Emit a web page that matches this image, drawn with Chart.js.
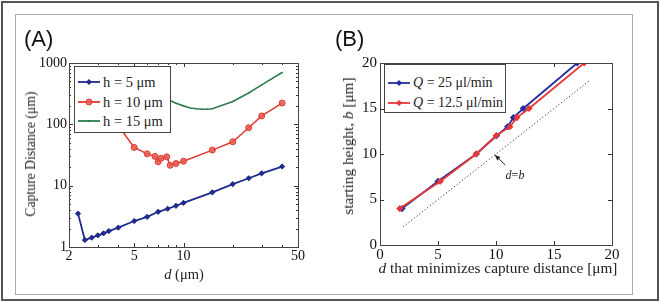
<!DOCTYPE html>
<html><head><meta charset="utf-8">
<script src="https://cdn.jsdelivr.net/npm/chart.js@4"></script>
<style>
html,body{margin:0;padding:0;background:#fff;}
#wrap{position:relative;width:660px;height:302px;overflow:hidden;font-family:"Liberation Serif","DejaVu Serif",serif;color:#222;}
.abs{position:absolute;}
#outer{left:1px;top:1px;width:654px;height:296px;border:2px solid #555;}
#inner{left:15px;top:14px;width:616px;height:279px;border:1px solid #aaa;}
.ptitle{font-family:"Liberation Sans",Arial,sans-serif;font-size:22px;color:#111;}
.c{transform:translate(-50%,-50%);white-space:nowrap;}
.r{transform:translate(-50%,-50%) rotate(-90deg);white-space:nowrap;}
.leg{background:#fff;border:1px solid #444;}
.row{position:absolute;left:0;height:20px;white-space:nowrap;}
.row svg{position:absolute;top:0;}
.row span{position:absolute;top:50%;transform:translateY(-50%);}
</style></head>
<body>
<div id="wrap">
  <div id="outer" class="abs"></div>
  <div id="inner" class="abs"></div>
  <canvas id="cA" class="abs" width="330" height="302" style="left:0;top:0;"></canvas>
  <canvas id="cB" class="abs" width="330" height="302" style="left:330px;top:0;"></canvas>
  <div class="abs ptitle" style="left:24px;top:26px;">(A)</div>
  <div class="abs ptitle" style="left:335px;top:26px;">(B)</div>
  <div class="abs r" style="left:31px;top:154px;font-size:13.7px;">Capture Distance (μm)</div>
  <div class="abs c" style="left:184px;top:274px;font-size:14.5px;"><i>d</i> (μm)</div>
  <div class="abs r" style="left:348px;top:146px;font-size:15.3px;">starting height, <i>b</i> [μm]</div>
  <div class="abs c" style="left:498px;top:268px;font-size:15.3px;"><i>d</i> that minimizes capture distance [μm]</div>
  <div class="abs c" style="left:515px;top:175px;font-size:12px;"><i>d</i>=<i>b</i></div>
  <div id="legA" class="abs leg" style="left:74px;top:66px;width:95px;height:65px;"></div>
  <div id="legB" class="abs leg" style="left:384px;top:64px;width:120px;height:47px;"></div>
</div>
<script>
// ---------- Panel A data ----------
const h5_d   = [2.27, 2.5, 2.75, 3, 3.25, 3.5, 4, 5, 6, 7, 8, 9, 10, 15, 20, 25, 30, 40];
const h5_cd  = [3.5, 1.3, 1.42, 1.55, 1.67, 1.82, 2.07, 2.65, 3.1, 3.75, 4.2, 4.7, 5.25, 7.8, 10.6, 13.2, 15.9, 20.5];
const h10_d  = [4, 5, 6, 6.7, 7, 7.3, 7.9, 8.3, 9, 10, 15, 20, 25, 30, 40];
const h10_cd = [95, 42, 33, 30, 24.5, 28, 29.5, 21.5, 23, 25, 38, 52, 88, 137, 222];
const h15_d  = [6, 7, 8, 9, 10, 11, 12, 13, 14, 15, 20, 25, 30, 40];
const h15_cd = [380, 300, 255, 220, 200, 185, 179, 176, 176, 180, 235, 325, 440, 700];
const aXTicks = [2, 5, 10, 50];
const aXMinor = [3, 4, 6, 7, 8, 9, 20, 30, 40];
const aYTicks = [1, 10, 100, 1000];
const aYMinor = [2,3,4,5,6,7,8,9,20,30,40,50,60,70,80,90,200,300,400,500,600,700,800,900];
const aLegend = ['h = 5 μm', 'h = 10 μm', 'h = 15 μm'];

// ---------- Panel B data ----------
const q25_d  = [1.9, 5.0, 8.3, 10.05, 11.0, 11.5, 12.35, 17.0];
const q25_b  = [4, 7, 10, 12, 13, 14, 15, 20];
const q12_d  = [1.7, 5.2, 8.3, 10.0, 11.2, 11.8, 12.85, 17.6];
const q12_b  = [4, 7, 10, 12, 13, 14, 15, 20];
const dbLine = [2, 18];
const bTicks = [0, 5, 10, 15, 20];
const arrowTip  = [9.9, 9.9];
const arrowTail = [10.8, 8.8];
const bLegend = ['25 μl/min', '12.5 μl/min'];

const C_BLUE = 'rgb(32,42,140)', C_RED = 'rgb(222,58,50)', C_GREEN = 'rgb(45,125,80)';
const C_BLUE2 = 'rgb(35,45,160)', C_RED2 = 'rgb(232,55,55)';
const pts = (xs, ys) => xs.map((x, i) => ({x, y: ys[i]}));
const serif = '"Liberation Serif", "DejaVu Serif", serif';

function boxPlugin(cfg) {
  return {
    id: 'boxTicks',
    afterDraw(chart) {
      const {ctx, chartArea: a, scales: {x, y}} = chart;
      ctx.save();
      ctx.strokeStyle = '#333';
      ctx.lineWidth = 1;
      ctx.beginPath();
      const tick = (v, len, horiz) => {
        if (horiz) {
          const p = Math.round(x.getPixelForValue(v)) + 0.5;
          ctx.moveTo(p, a.bottom); ctx.lineTo(p, a.bottom - len);
          ctx.moveTo(p, a.top); ctx.lineTo(p, a.top + len);
        } else {
          const p = Math.round(y.getPixelForValue(v)) + 0.5;
          ctx.moveTo(a.left, p); ctx.lineTo(a.left + len, p);
          ctx.moveTo(a.right, p); ctx.lineTo(a.right - len, p);
        }
      };
      cfg.xMajor.forEach(v => tick(v, 4, true));
      (cfg.xMinor || []).forEach(v => tick(v, 2, true));
      cfg.yMajor.forEach(v => tick(v, 4, false));
      (cfg.yMinor || []).forEach(v => tick(v, 2, false));
      ctx.stroke();
      ctx.strokeStyle = '#444';
      ctx.strokeRect(Math.round(a.left) + 0.5, Math.round(a.top) + 0.5,
                     Math.round(a.right - a.left), Math.round(a.bottom - a.top));
      if (cfg.arrow) {
        const tx = x.getPixelForValue(cfg.arrow.tip[0]), ty = y.getPixelForValue(cfg.arrow.tip[1]);
        const sx = x.getPixelForValue(cfg.arrow.tail[0]), sy = y.getPixelForValue(cfg.arrow.tail[1]);
        const ang = Math.atan2(ty - sy, tx - sx);
        ctx.strokeStyle = '#222';
        ctx.fillStyle = '#222';
        ctx.beginPath(); ctx.moveTo(sx, sy); ctx.lineTo(tx, ty); ctx.stroke();
        ctx.beginPath();
        ctx.moveTo(tx, ty);
        ctx.lineTo(tx - 6 * Math.cos(ang - 0.4), ty - 6 * Math.sin(ang - 0.4));
        ctx.lineTo(tx - 6 * Math.cos(ang + 0.4), ty - 6 * Math.sin(ang + 0.4));
        ctx.closePath(); ctx.fill();
      }
      ctx.restore();
    }
  };
}

function axis(type, min, max, ticks, fitKey, fitVal, pad, fs) {
  return {
    type, min, max,
    afterBuildTicks: s => { s.ticks = ticks.map(v => ({value: v})); },
    afterFit: s => { s[fitKey] = fitVal; },
    ticks: {font: {family: serif, size: fs}, color: '#111', padding: pad, autoSkip: false, maxRotation: 0,
            callback: v => String(v)},
    grid: {display: false, drawTicks: false, tickLength: 0},
    border: {display: false}
  };
}

new Chart(document.getElementById('cA'), {
  type: 'line',
  data: {datasets: [
    {data: pts(h5_d, h5_cd), borderColor: C_BLUE, backgroundColor: C_BLUE, borderWidth: 1.8,
     pointStyle: 'rectRot', pointRadius: 2.6, pointBorderWidth: 1},
    {data: pts(h10_d, h10_cd), borderColor: C_RED, backgroundColor: 'rgba(232,90,80,0.85)', borderWidth: 1.5,
     pointStyle: 'circle', pointRadius: 3, pointBorderWidth: 1},
    {data: pts(h15_d, h15_cd), borderColor: C_GREEN, backgroundColor: C_GREEN, borderWidth: 1.6,
     pointRadius: 0.8, pointBorderWidth: 0}
  ]},
  options: {
    responsive: false, animation: false, devicePixelRatio: 1,
    layout: {padding: {left: 29, top: 63, right: 32, bottom: 25}},
    plugins: {legend: {display: false}, tooltip: {enabled: false}},
    scales: {
      x: axis('logarithmic', 2, 50, aXTicks, 'height', 30, 1, 14),
      y: axis('logarithmic', 1, 1000, aYTicks, 'width', 40, 2, 14)
    }
  },
  plugins: [boxPlugin({xMajor: aXTicks, xMinor: aXMinor, yMajor: aYTicks, yMinor: aYMinor})]
});

new Chart(document.getElementById('cB'), {
  type: 'line',
  data: {datasets: [
    {data: pts(q25_d, q25_b), borderColor: C_BLUE2, backgroundColor: C_BLUE2, borderWidth: 1.8,
     pointStyle: 'rectRot', pointRadius: 2.3, order: 1},
    {data: pts(q12_d, q12_b), borderColor: C_RED2, backgroundColor: C_RED2, borderWidth: 1.8,
     pointStyle: 'rectRot', pointRadius: 2.3, order: 0},
    {data: pts(dbLine, dbLine), borderColor: '#333', borderWidth: 1, borderDash: [1.2, 2.2],
     pointRadius: 0, order: 2}
  ]},
  options: {
    responsive: false, animation: false, devicePixelRatio: 1,
    layout: {padding: {left: 20, top: 63, right: 48, bottom: 27}},
    plugins: {legend: {display: false}, tooltip: {enabled: false}},
    scales: {
      x: axis('linear', 0, 20, bTicks, 'height', 30, 1, 15),
      y: axis('linear', 0, 20, bTicks, 'width', 30, 3, 15)
    }
  },
  plugins: [boxPlugin({xMajor: bTicks, yMajor: bTicks, arrow: {tip: arrowTip, tail: arrowTail}})]
});

// ---------- HTML legends ----------
function legendRow(el, top, sampleW, textLeft, color, marker, html, fs) {
  const row = document.createElement('div');
  row.className = 'row';
  row.style.top = top + 'px';
  row.style.width = '100%';
  const mid = sampleW / 2 + 3;
  let m = '';
  if (marker === 'diamond') m = `<polygon points="${mid},7 ${mid+3},10 ${mid},13 ${mid-3},10" fill="${color}"/>`;
  if (marker === 'circle') m = `<circle cx="${mid}" cy="10" r="3" fill="rgba(232,90,80,0.85)" stroke="${color}"/>`;
  if (marker === 'dot') m = `<circle cx="${mid}" cy="10" r="1" fill="${color}"/>`;
  row.innerHTML = `<svg width="${sampleW + 6}" height="20" style="left:0"><line x1="3" y1="10" x2="${sampleW + 3}" y2="10" stroke="${color}" stroke-width="1.8"/>${m}</svg>` +
                  `<span style="left:${textLeft}px;font-size:${fs}px;">${html}</span>`;
  el.appendChild(row);
}
const legA = document.getElementById('legA');
const aColors = [C_BLUE, C_RED, C_GREEN], aMarks = ['diamond', 'circle', 'dot'];
aLegend.forEach((t, i) => legendRow(legA, 5 + i * 19.5, 22, 28, aColors[i], aMarks[i], t, 14.5));
const legB = document.getElementById('legB');
const bColors = [C_BLUE2, C_RED2];
bLegend.forEach((t, i) => legendRow(legB, 8 + i * 20, 22, 28, bColors[i], 'diamond',
  `<i>Q</i> = ${t}`, 14));
</script>
</body></html>
